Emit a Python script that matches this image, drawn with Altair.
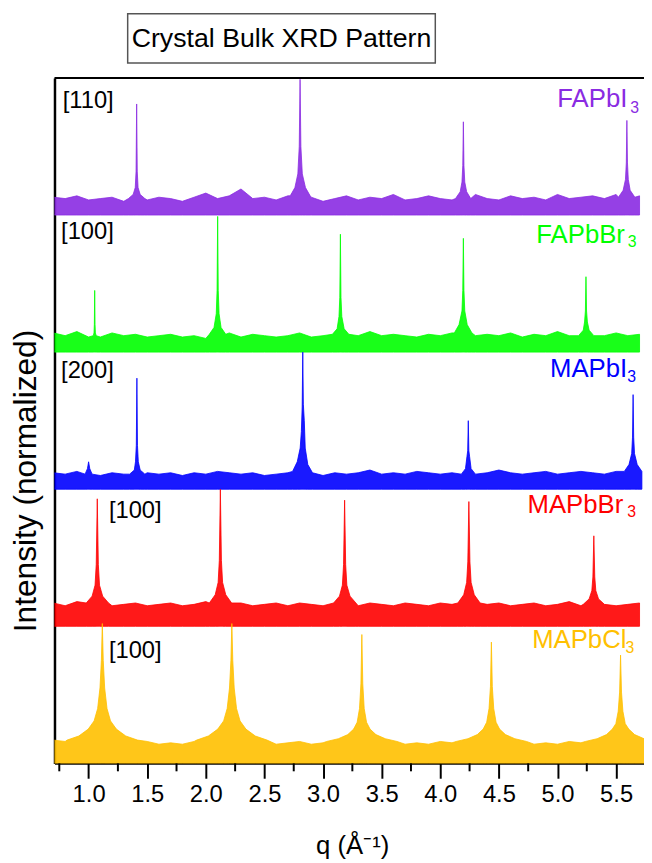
import altair as alt
import pandas as pd

# ---------------- data ----------------
SERIES = ["FAPbI3", "FAPbBr3", "MAPbI3", "MAPbBr3", "MAPbCl3"]
OFFSETS = [4, 3, 2, 1, 0]
COLORS = ["#8A2BE2", "#00FF00", "#0000FF", "#FF0000", "#FFC000"]

# background noise level, read every 0.1 in q from 0.7 to 5.7
NOISE_Q = [round(0.70 + 0.10 * k, 2) for k in range(51)]
NOISE_FAPBI3 = [0.13, 0.12, 0.14, 0.11, 0.12, 0.13, 0.10, 0.12, 0.11, 0.13,
                0.12, 0.10, 0.13, 0.16, 0.12, 0.14, 0.19, 0.12, 0.13, 0.11,
                0.14, 0.12, 0.13, 0.10, 0.12, 0.14, 0.11, 0.13, 0.12, 0.15,
                0.11, 0.12, 0.14, 0.12, 0.11, 0.13, 0.15, 0.12, 0.11, 0.14,
                0.12, 0.13, 0.11, 0.15, 0.12, 0.13, 0.14, 0.12, 0.15, 0.13,
                0.14]
NOISE_FAPBBR3 = [0.14, 0.12, 0.15, 0.11, 0.12, 0.14, 0.12, 0.13, 0.11, 0.12,
                 0.13, 0.11, 0.12, 0.10, 0.12, 0.14, 0.11, 0.13, 0.12, 0.11,
                 0.12, 0.14, 0.11, 0.12, 0.13, 0.11, 0.12, 0.15, 0.12, 0.13,
                 0.12, 0.11, 0.13, 0.12, 0.14, 0.11, 0.12, 0.13, 0.12, 0.14,
                 0.11, 0.13, 0.12, 0.15, 0.12, 0.11, 0.13, 0.12, 0.14, 0.12,
                 0.13]
NOISE_MAPBI3 = [0.12, 0.11, 0.13, 0.12, 0.10, 0.12, 0.11, 0.13, 0.12, 0.11,
                0.12, 0.10, 0.12, 0.11, 0.13, 0.12, 0.11, 0.12, 0.10, 0.11,
                0.12, 0.11, 0.13, 0.10, 0.12, 0.11, 0.12, 0.14, 0.11, 0.12,
                0.11, 0.13, 0.12, 0.11, 0.12, 0.13, 0.11, 0.12, 0.14, 0.12,
                0.11, 0.12, 0.13, 0.11, 0.12, 0.13, 0.12, 0.11, 0.13, 0.12,
                0.12]
NOISE_MAPBBR3 = [0.17, 0.15, 0.18, 0.16, 0.17, 0.15, 0.16, 0.17, 0.15, 0.16,
                 0.17, 0.15, 0.16, 0.18, 0.15, 0.16, 0.17, 0.15, 0.16, 0.17,
                 0.15, 0.17, 0.16, 0.15, 0.18, 0.16, 0.15, 0.17, 0.16, 0.15,
                 0.17, 0.16, 0.15, 0.17, 0.16, 0.18, 0.15, 0.16, 0.17, 0.15,
                 0.16, 0.17, 0.15, 0.16, 0.18, 0.15, 0.16, 0.17, 0.15, 0.16,
                 0.17]
NOISE_MAPBCL3 = [0.17, 0.16, 0.17, 0.16, 0.15, 0.16, 0.14, 0.15, 0.16, 0.14,
                 0.15, 0.14, 0.16, 0.15, 0.14, 0.15, 0.16, 0.14, 0.15, 0.14,
                 0.15, 0.16, 0.14, 0.15, 0.14, 0.16, 0.15, 0.14, 0.15, 0.16,
                 0.14, 0.15, 0.14, 0.16, 0.15, 0.14, 0.15, 0.16, 0.14, 0.15,
                 0.16, 0.14, 0.15, 0.14, 0.16, 0.15, 0.14, 0.15, 0.16, 0.15,
                 0.16]

# Bragg peaks: (q points, normalized intensity)
PEAKS_FAPBI3 = [
    ([1.34, 1.38, 1.398, 1.405, 1.41, 1.415, 1.422, 1.44, 1.48],
     [0.12, 0.15, 0.20, 0.32, 0.81, 0.32, 0.20, 0.15, 0.12]),
    ([2.72, 2.76, 2.785, 2.797, 2.804, 2.811, 2.823, 2.85, 2.89],
     [0.14, 0.20, 0.30, 0.50, 0.99, 0.50, 0.30, 0.20, 0.14]),
    ([4.13, 4.17, 4.185, 4.192, 4.197, 4.202, 4.209, 4.225, 4.26],
     [0.12, 0.17, 0.24, 0.36, 0.68, 0.36, 0.24, 0.17, 0.12]),
    ([5.52, 5.56, 5.58, 5.587, 5.592, 5.597, 5.604, 5.62, 5.66],
     [0.13, 0.18, 0.26, 0.38, 0.69, 0.38, 0.26, 0.18, 0.13]),
]
PEAKS_FAPBBR3 = [
    ([1.00, 1.04, 1.046, 1.049, 1.052, 1.055, 1.058, 1.065, 1.10],
     [0.11, 0.12, 0.14, 0.20, 0.45, 0.20, 0.14, 0.12, 0.11]),
    ([2.03, 2.07, 2.089, 2.096, 2.101, 2.106, 2.113, 2.13, 2.17],
     [0.13, 0.18, 0.28, 0.45, 0.99, 0.45, 0.28, 0.18, 0.13]),
    ([3.08, 3.12, 3.136, 3.143, 3.148, 3.153, 3.16, 3.18, 3.22],
     [0.13, 0.17, 0.26, 0.40, 0.86, 0.40, 0.26, 0.17, 0.13]),
    ([4.12, 4.16, 4.185, 4.192, 4.197, 4.202, 4.209, 4.23, 4.27],
     [0.14, 0.20, 0.30, 0.45, 0.83, 0.45, 0.30, 0.20, 0.14]),
    ([5.18, 5.22, 5.231, 5.238, 5.243, 5.248, 5.255, 5.27, 5.31],
     [0.12, 0.16, 0.22, 0.30, 0.55, 0.30, 0.22, 0.16, 0.12]),
]
PEAKS_MAPBI3 = [
    ([0.97, 0.99, 1.00, 1.01, 1.03],
     [0.11, 0.15, 0.20, 0.15, 0.11]),
    ([1.35, 1.39, 1.40, 1.407, 1.412, 1.417, 1.424, 1.44, 1.48],
     [0.11, 0.14, 0.20, 0.32, 0.81, 0.32, 0.20, 0.14, 0.11]),
    ([2.74, 2.78, 2.805, 2.815, 2.822, 2.827, 2.832, 2.84, 2.848, 2.87, 2.91],
     [0.13, 0.20, 0.30, 0.42, 0.60, 1.00, 0.62, 0.50, 0.30, 0.18, 0.12]),
    ([4.18, 4.215, 4.228, 4.234, 4.239, 4.244, 4.25, 4.263, 4.30],
     [0.11, 0.15, 0.24, 0.28, 0.50, 0.28, 0.24, 0.15, 0.11]),
    ([5.57, 5.61, 5.633, 5.64, 5.645, 5.65, 5.657, 5.68, 5.72],
     [0.13, 0.18, 0.26, 0.38, 0.69, 0.38, 0.26, 0.18, 0.13]),
]
PEAKS_MAPBBR3 = [
    ([0.98, 1.03, 1.055, 1.065, 1.074, 1.083, 1.093, 1.12, 1.17],
     [0.17, 0.22, 0.30, 0.45, 0.93, 0.45, 0.30, 0.22, 0.17]),
    ([2.03, 2.08, 2.105, 2.115, 2.124, 2.133, 2.143, 2.17, 2.22],
     [0.17, 0.23, 0.32, 0.48, 1.00, 0.48, 0.32, 0.23, 0.17]),
    ([3.09, 3.14, 3.165, 3.175, 3.184, 3.193, 3.203, 3.23, 3.28],
     [0.17, 0.22, 0.30, 0.45, 0.92, 0.45, 0.30, 0.22, 0.17]),
    ([4.15, 4.20, 4.225, 4.235, 4.244, 4.253, 4.263, 4.29, 4.34],
     [0.17, 0.23, 0.32, 0.47, 0.91, 0.47, 0.32, 0.23, 0.17]),
    ([5.22, 5.27, 5.293, 5.302, 5.31, 5.318, 5.327, 5.35, 5.40],
     [0.16, 0.20, 0.26, 0.36, 0.66, 0.36, 0.26, 0.20, 0.16]),
]
PEAKS_MAPBCL3 = [
    ([0.817, 0.917, 0.997, 1.047, 1.077, 1.097, 1.109, 1.117, 1.125, 1.137, 1.157, 1.187, 1.237, 1.317, 1.417],
     [0.17, 0.20, 0.25, 0.31, 0.40, 0.55, 0.75, 1.02, 0.75, 0.55, 0.40, 0.31, 0.25, 0.20, 0.17]),
    ([1.922, 2.022, 2.102, 2.152, 2.182, 2.202, 2.214, 2.222, 2.230, 2.242, 2.262, 2.292, 2.342, 2.422, 2.522],
     [0.17, 0.20, 0.25, 0.31, 0.40, 0.55, 0.75, 1.02, 0.75, 0.55, 0.40, 0.31, 0.25, 0.20, 0.17]),
    ([3.031, 3.131, 3.211, 3.261, 3.291, 3.311, 3.323, 3.331, 3.339, 3.351, 3.371, 3.401, 3.451, 3.531, 3.631],
     [0.16, 0.18, 0.21, 0.25, 0.30, 0.40, 0.58, 0.94, 0.58, 0.40, 0.30, 0.25, 0.21, 0.18, 0.16]),
    ([4.136, 4.236, 4.316, 4.366, 4.396, 4.416, 4.428, 4.436, 4.444, 4.456, 4.476, 4.506, 4.556, 4.636, 4.736],
     [0.16, 0.18, 0.21, 0.25, 0.30, 0.40, 0.56, 0.885, 0.56, 0.40, 0.30, 0.25, 0.21, 0.18, 0.16]),
    ([5.238, 5.338, 5.418, 5.468, 5.498, 5.518, 5.530, 5.538, 5.546, 5.558, 5.578, 5.608, 5.658, 5.738, 5.838],
     [0.16, 0.18, 0.21, 0.25, 0.29, 0.38, 0.52, 0.79, 0.52, 0.38, 0.29, 0.25, 0.21, 0.18, 0.16]),
]

NOISE = dict(zip(SERIES, [NOISE_FAPBI3, NOISE_FAPBBR3, NOISE_MAPBI3, NOISE_MAPBBR3, NOISE_MAPBCL3]))
PEAKS = dict(zip(SERIES, [PEAKS_FAPBI3, PEAKS_FAPBBR3, PEAKS_MAPBI3, PEAKS_MAPBBR3, PEAKS_MAPBCL3]))

# annotations
LABEL_MAIN = ["FAPbI", "FAPbBr", "MAPbI", "MAPbBr", "MAPbCl"]
LABEL_SUB = ["3", "3", "3", "3", "3"]
LABEL_Q = [5.596, 5.575, 5.594, 5.561, 5.588]
LABEL_Y = [4.789, 3.797, 2.816, 1.830, 0.839]
SUB_Q = [5.620, 5.600, 5.595, 5.595, 5.580]
SUB_Y = [4.747, 3.766, 2.785, 1.797, 0.808]
BRACKETS = ["[110]", "[100]", "[200]", "[100]", "[100]"]
BRACKET_Q = [0.779, 0.765, 0.765, 1.173, 1.173]
BRACKET_Y = [4.780, 3.824, 2.814, 1.789, 0.772]

X_MAJOR = [1.0, 1.5, 2.0, 2.5, 3.0, 3.5, 4.0, 4.5, 5.0, 5.5]
X_MINOR = [0.75, 1.25, 1.75, 2.25, 2.75, 3.25, 3.75, 4.25, 4.75, 5.25]

# ---------------- build table ----------------
rows = []
for name, off in zip(SERIES, OFFSETS):
    windows = [(min(qs), max(qs)) for qs, _ in PEAKS[name]]
    pts = [(q, v) for q, v in zip(NOISE_Q, NOISE[name])
           if not any(lo <= q <= hi for lo, hi in windows)]
    for qs, vs in PEAKS[name]:
        pts.extend(zip(qs, vs))
    pts.sort()
    for q, v in pts:
        rows.append({"series": name, "q": q, "base": off, "top": off + v})
df = pd.DataFrame(rows)

labels = pd.DataFrame({"series": SERIES, "text": LABEL_MAIN, "q": LABEL_Q, "y": LABEL_Y})
subs = pd.DataFrame({"series": SERIES, "text": LABEL_SUB, "q": SUB_Q, "y": SUB_Y})
brackets = pd.DataFrame({"text": BRACKETS, "q": BRACKET_Q, "y": BRACKET_Y})
minor = pd.DataFrame({"q": X_MINOR})

# ---------------- chart ----------------
W, H = 596, 693
FONT = "Liberation Sans"
xs = alt.Scale(domain=[0.709, 5.738], nice=False, zero=False)
ys = alt.Scale(domain=[0, 5], nice=False, zero=False)
cs = alt.Scale(domain=SERIES, range=COLORS)

x_axis = alt.Axis(
    values=X_MAJOR, format=".1f",
    tickSize=15, tickWidth=2, tickColor="black",
    domainColor="black", domainWidth=2,
    grid=False, labelOverlap=False, labelFlush=False, labelBound=False,
    labelFont=FONT, labelFontSize=24, labelColor="black",
    labelBaseline="alphabetic", labelPadding=24,
    title="q (Å⁻¹)", titleFont=FONT, titleFontSize=26, titleFontWeight="normal",
    titleColor="black", titleX=301, titleY=91, titleBaseline="alphabetic",
)
y_axis = alt.Axis(
    ticks=False, labels=False, grid=False,
    domainColor="black", domainWidth=2.5,
    title="Intensity (normalized)", titleFont=FONT, titleFontSize=32,
    titleFontWeight="normal", titleColor="black",
    titleX=-19, titleY=407, titleAngle=270, titleAlign="center",
    titleBaseline="alphabetic",
)

area = alt.Chart(df).mark_area(clip=True, strokeWidth=0.8, fillOpacity=0.9).encode(
    x=alt.X("q:Q", scale=xs, axis=x_axis),
    y=alt.Y("top:Q", scale=ys, axis=y_axis),
    y2="base:Q",
    color=alt.Color("series:N", scale=cs, legend=None),
    stroke=alt.Stroke("series:N", scale=cs, legend=None),
)

minor_ticks = alt.Chart(minor).mark_rule(color="black", strokeWidth=2).encode(
    x=alt.X("q:Q", scale=xs, axis=x_axis),
    y=alt.value(H), y2=alt.value(H + 8),
)

one = pd.DataFrame({"k": [0]})
top_rule = alt.Chart(one).mark_rule(color="black", strokeWidth=2).encode(
    x=alt.value(0), x2=alt.value(W), y=alt.value(0)
)

main_txt = alt.Chart(labels).mark_text(
    align="right", baseline="alphabetic", font=FONT, fontSize=26
).encode(
    x=alt.X("q:Q", scale=xs, axis=x_axis),
    y=alt.Y("y:Q", scale=ys, axis=y_axis),
    text="text:N",
    color=alt.Color("series:N", scale=cs, legend=None),
)
sub_txt = alt.Chart(subs).mark_text(
    align="left", baseline="alphabetic", font=FONT, fontSize=16
).encode(
    x=alt.X("q:Q", scale=xs, axis=x_axis),
    y=alt.Y("y:Q", scale=ys, axis=y_axis),
    text="text:N",
    color=alt.Color("series:N", scale=cs, legend=None),
)
br_txt = alt.Chart(brackets).mark_text(
    align="left", baseline="alphabetic", font=FONT, fontSize=24, color="black"
).encode(
    x=alt.X("q:Q", scale=xs, axis=x_axis),
    y=alt.Y("y:Q", scale=ys, axis=y_axis),
    text="text:N",
)

box = alt.Chart(one).mark_rect(fillOpacity=0, stroke="#555555", strokeWidth=1.5).encode(
    x=alt.value(74), x2=alt.value(385), y=alt.value(-65), y2=alt.value(-15)
)
title = alt.Chart(one).mark_text(
    text="Crystal Bulk XRD Pattern", font=FONT, fontSize=27,
    align="center", baseline="alphabetic", color="black"
).encode(x=alt.value(229.5), y=alt.value(-31))

chart = alt.layer(area, minor_ticks, top_rule, main_txt, sub_txt, br_txt, box, title).properties(
    width=W, height=H,
    padding={"left": 47, "top": 66, "right": 0, "bottom": 96},
    autosize=alt.AutoSizeParams(type="none"),
).configure_view(stroke=None)

chart.save("out.html", embed_options={"renderer": "svg", "actions": False})
